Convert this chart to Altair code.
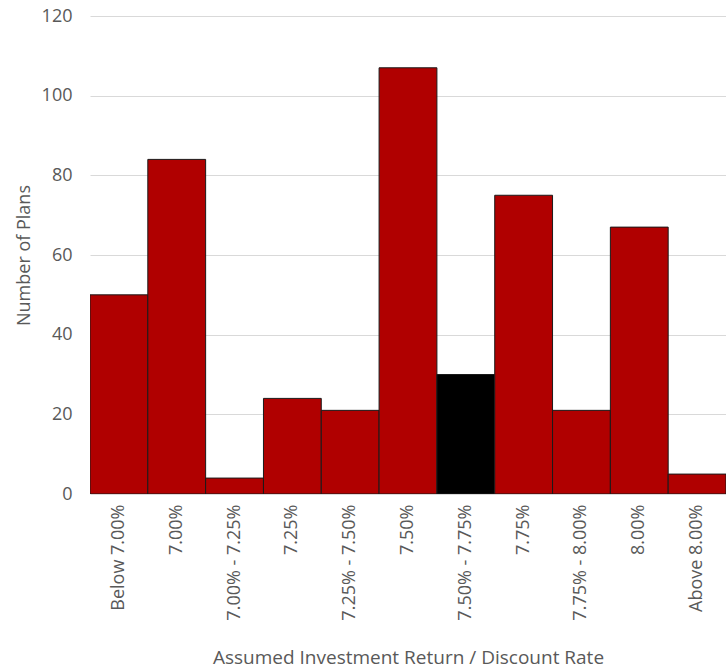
import altair as alt
import pandas as pd

categories = ["Below 7.00%", "7.00%", "7.00% - 7.25%", "7.25%", "7.25% - 7.50%",
              "7.50%", "7.50% - 7.75%", "7.75%", "7.75% - 8.00%", "8.00%", "Above 8.00%"]
plans = [50, 84, 4, 24, 21, 107, 30, 75, 21, 67, 5]
highlight = ["no", "no", "no", "no", "no", "no", "yes", "no", "no", "no", "no"]

df = pd.DataFrame({"cat": categories, "plans": plans, "hl": highlight})

FONT = "Open Sans"
TXT = "#595959"

chart = alt.Chart(df).mark_bar(stroke="#1a1a1a", strokeWidth=1, clip=True).encode(
    x=alt.X("cat:N", sort=categories,
            scale=alt.Scale(paddingInner=0, paddingOuter=alt.ExprRef(expr="-0.073"), align=0),
            axis=alt.Axis(title="Assumed Investment Return / Discount Rate",
                          labelAngle=-90, labelAlign="right", labelBaseline="middle",
                          labelPadding=10, ticks=False, domain=False,
                          labelFont=FONT, labelFontSize=18, labelColor=TXT,
                          titleFont=FONT, titleFontSize=19, titleColor=TXT,
                          titleFontWeight="normal", titlePadding=28)),
    y=alt.Y("plans:Q", scale=alt.Scale(domain=[0, 120]),
            axis=alt.Axis(title="Number of Plans", values=[0, 20, 40, 60, 80, 100, 120],
                          ticks=False, domain=False, grid=True, gridColor="#D9D9D9",
                          labelFont=FONT, labelFontSize=18, labelColor=TXT, labelPadding=18,
                          titleFont=FONT, titleFontSize=18, titleColor=TXT,
                          titleFontWeight="normal", titlePadding=8)),
    color=alt.Color("hl:N", scale=alt.Scale(domain=["no", "yes"], range=["#B00000", "#000000"]),
                    legend=None),
).properties(
    width=636, height=478,
    autosize=alt.AutoSizeParams(type="none"),
    padding={"top": 16, "left": 90, "right": 0, "bottom": 178},
).configure_view(stroke=None)

chart.save("out.html", embed_options={"renderer": "svg", "actions": False})
